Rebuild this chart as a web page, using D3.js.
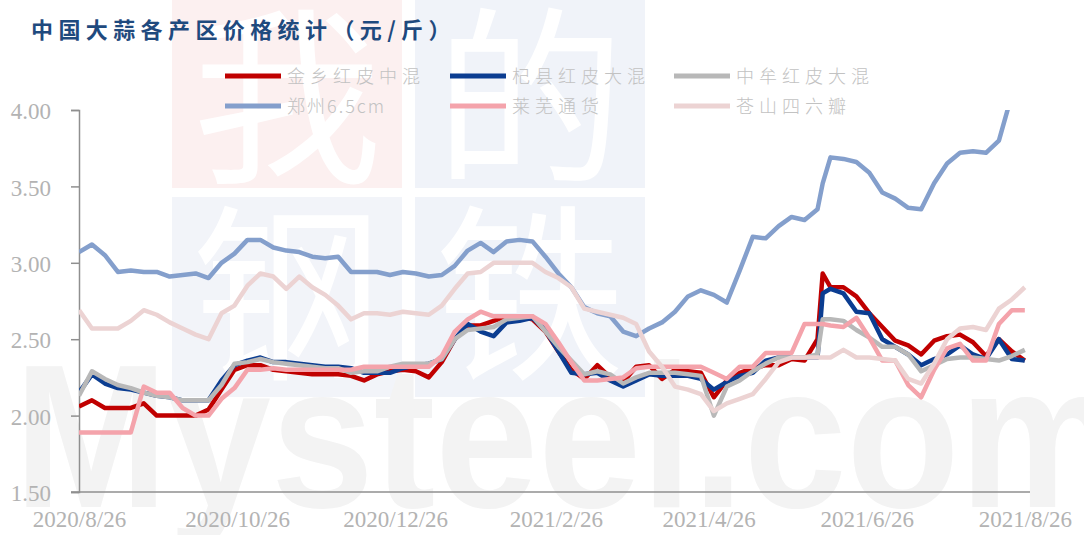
<!DOCTYPE html>
<html>
<head>
<meta charset="utf-8">
<script src="https://cdn.jsdelivr.net/npm/d3@7"></script>
<style>
  html, body { margin: 0; padding: 0; background: #fff; }
  #chart { width: 1084px; height: 535px; }
</style>
</head>
<body>
<div id="chart"></div>
<script>
// dates (every ~5 days, plus 2021-06-09 for the spike)
let dates = [
  "2020-08-26","2020-08-31","2020-09-05","2020-09-10","2020-09-15","2020-09-20","2020-09-25","2020-09-30",
  "2020-10-05","2020-10-10","2020-10-15","2020-10-20","2020-10-25","2020-10-30","2020-11-04","2020-11-09",
  "2020-11-14","2020-11-19","2020-11-24","2020-11-29","2020-12-04","2020-12-09","2020-12-14","2020-12-19",
  "2020-12-24","2020-12-29","2021-01-03","2021-01-08","2021-01-13","2021-01-18","2021-01-23","2021-01-28",
  "2021-02-02","2021-02-07","2021-02-12","2021-02-17","2021-02-22","2021-02-27","2021-03-04","2021-03-09",
  "2021-03-14","2021-03-19","2021-03-24","2021-03-29","2021-04-03","2021-04-08","2021-04-13","2021-04-18",
  "2021-04-23","2021-04-28","2021-05-03","2021-05-08","2021-05-13","2021-05-18","2021-05-23","2021-05-28",
  "2021-06-02","2021-06-07","2021-06-09","2021-06-12","2021-06-17","2021-06-22","2021-06-27","2021-07-02",
  "2021-07-07","2021-07-12","2021-07-17","2021-07-22","2021-07-27","2021-08-01","2021-08-06","2021-08-11",
  "2021-08-16","2021-08-21","2021-08-26"
];

let jinxiang = [
  2.06,2.10,2.05,2.05,2.05,2.08,2.00,2.00,2.00,2.00,2.04,2.17,2.30,2.33,2.33,2.30,
  2.29,2.28,2.27,2.27,2.27,2.26,2.23,2.27,2.29,2.30,2.29,2.25,2.35,2.50,2.59,2.59,
  2.62,2.65,2.65,2.63,2.55,2.42,2.30,2.24,2.33,2.25,2.22,2.32,2.33,2.24,2.30,2.29,
  2.28,2.12,2.23,2.28,2.31,2.33,2.33,2.37,2.36,2.50,2.93,2.84,2.84,2.78,2.67,2.58,
  2.49,2.46,2.40,2.49,2.52,2.53,2.48,2.39,2.50,2.42,2.36
];
let qixian = [
  2.15,2.27,2.21,2.18,2.17,2.15,2.13,2.12,2.10,2.10,2.10,2.23,2.33,2.36,2.38,2.35,
  2.35,2.34,2.33,2.32,2.32,2.31,2.28,2.28,2.28,2.31,2.33,2.34,2.37,2.50,2.60,2.55,
  2.52,2.61,2.62,2.64,2.56,2.42,2.28,2.27,2.28,2.23,2.19,2.23,2.27,2.26,2.26,2.26,
  2.24,2.17,2.22,2.26,2.28,2.36,2.38,2.38,2.38,2.38,2.80,2.83,2.80,2.68,2.67,2.50,
  2.45,2.40,2.33,2.37,2.40,2.46,2.40,2.37,2.50,2.37,2.36
];
let zhongmou = [
  2.13,2.29,2.24,2.20,2.18,2.15,2.13,2.12,2.10,2.10,2.10,2.20,2.34,2.35,2.37,2.35,
  2.34,2.33,2.32,2.31,2.31,2.28,2.29,2.29,2.32,2.34,2.34,2.34,2.37,2.50,2.56,2.57,
  2.58,2.63,2.64,2.65,2.55,2.45,2.36,2.27,2.29,2.27,2.21,2.25,2.28,2.28,2.28,2.27,
  2.26,2.00,2.19,2.23,2.29,2.34,2.38,2.38,2.38,2.40,2.63,2.63,2.62,2.56,2.51,2.45,
  2.45,2.40,2.29,2.33,2.37,2.38,2.38,2.37,2.36,2.39,2.43
];
let zhengzhou = [
  3.07,3.12,3.05,2.94,2.95,2.94,2.94,2.91,2.92,2.93,2.90,3.00,3.06,3.15,3.15,3.10,
  3.08,3.07,3.04,3.03,3.04,2.94,2.94,2.94,2.92,2.94,2.93,2.91,2.92,2.98,3.08,3.13,
  3.07,3.14,3.15,3.14,3.04,2.93,2.84,2.71,2.67,2.65,2.55,2.52,2.57,2.61,2.68,2.78,
  2.82,2.79,2.74,2.95,3.17,3.16,3.24,3.30,3.28,3.35,3.52,3.69,3.68,3.66,3.59,3.46,
  3.42,3.36,3.35,3.52,3.65,3.72,3.73,3.72,3.80,4.10,4.25
];
let laiwu = [
  1.89,1.89,1.89,1.89,1.89,2.19,2.15,2.15,2.05,2.00,2.00,2.11,2.18,2.30,2.30,2.31,
  2.30,2.30,2.30,2.30,2.30,2.30,2.32,2.32,2.32,2.32,2.32,2.32,2.39,2.55,2.63,2.68,
  2.65,2.65,2.65,2.65,2.60,2.48,2.35,2.23,2.23,2.24,2.25,2.31,2.32,2.32,2.32,2.32,
  2.32,2.28,2.24,2.32,2.32,2.41,2.41,2.41,2.60,2.60,2.60,2.59,2.58,2.64,2.51,2.36,
  2.36,2.20,2.12,2.30,2.44,2.47,2.36,2.36,2.60,2.69,2.69
];
let cangshan = [
  2.69,2.57,2.57,2.57,2.62,2.69,2.66,2.61,2.57,2.53,2.50,2.67,2.72,2.85,2.93,2.91,
  2.83,2.91,2.84,2.79,2.72,2.63,2.67,2.67,2.66,2.68,2.67,2.66,2.72,2.83,2.93,2.94,
  3.00,3.00,3.00,3.00,2.94,2.90,2.84,2.70,2.68,2.66,2.64,2.60,2.42,2.32,2.19,2.17,
  2.14,2.03,2.08,2.11,2.14,2.24,2.35,2.38,2.38,2.38,2.38,2.38,2.43,2.38,2.38,2.37,
  2.36,2.24,2.21,2.34,2.50,2.57,2.58,2.56,2.70,2.76,2.84
];

let seriesNames = ["金乡红皮中混", "杞县红皮大混", "中牟红皮大混", "郑州6.5cm", "莱芜通货", "苍山四六瓣"];
let seriesValues = [jinxiang, qixian, zhongmou, zhengzhou, laiwu, cangshan];
let seriesColors = ["#C00000", "#0B3D91", "#B8B8B8", "#849FCC", "#F4A3AB", "#ECD3D3"];

let yTicks = [1.5, 2.0, 2.5, 3.0, 3.5, 4.0];
let xTickDates = ["2020-08-26", "2020-10-26", "2020-12-26", "2021-02-26", "2021-04-26", "2021-06-26", "2021-08-26"];

let title = "中国大蒜各产区价格统计（元/斤）";

let width = 1084, height = 535;
let margin = { left: 79, right: 54, top: 110, bottom: 43 };

let parse = d3.timeParse("%Y-%m-%d");

let svg = d3.select("#chart").append("svg")
  .attr("width", width)
  .attr("height", height);

// watermark
let wm = svg.append("g");
let blocks = [
  { x: 172, y: 0, c: "#FCF0F0", t: "我" },
  { x: 415, y: 0, c: "#F0F3F9", t: "的" },
  { x: 172, y: 197, c: "#F2F4F9", t: "钢" },
  { x: 415, y: 197, c: "#F0F3F9", t: "铁" }
];
wm.selectAll("rect").data(blocks).enter().append("rect")
  .attr("x", d => d.x).attr("y", d => d.y)
  .attr("width", 230).attr("height", d => d.y === 0 ? 188 : 200)
  .attr("fill", d => d.c);
wm.selectAll("text.big").data(blocks).enter().append("text")
  .attr("class", "big")
  .attr("x", d => d.x + 115).attr("y", d => d.y + 168)
  .attr("text-anchor", "middle")
  .attr("font-family", "Noto Sans CJK SC")
  .attr("font-weight", 400)
  .attr("font-size", 190)
  .attr("fill", "#fff")
  .text(d => d.t);
wm.append("text")
  .attr("x", 14).attr("y", 507)
  .attr("font-family", "Liberation Sans")
  .attr("font-weight", 700)
  .attr("font-size", 205)
  .attr("textLength", 1110)
  .attr("lengthAdjust", "spacingAndGlyphs")
  .attr("fill", "#F3F3F3")
  .text("Mysteel.com");

let x = d3.scaleTime()
  .domain([parse("2020-08-26"), parse("2021-08-28")])
  .range([margin.left, width - margin.right]);

let y = d3.scaleLinear()
  .domain([1.5, 4])
  .range([height - margin.bottom, margin.top]);

// title
svg.append("text")
  .attr("x", 31).attr("y", 38)
  .attr("font-family", "Noto Sans CJK SC")
  .attr("font-weight", 700)
  .attr("font-size", 22)
  .attr("letter-spacing", 5.4)
  .attr("fill", "#1F4A7E")
  .text(title);

// y axis
let yAxis = svg.append("g")
  .attr("transform", `translate(${margin.left},0)`)
  .call(d3.axisLeft(y).tickValues(yTicks).tickFormat(d3.format(".2f")).tickSize(8).tickPadding(20));
yAxis.select(".domain").attr("stroke", "#8f8f8f").attr("stroke-width", 1.5);
yAxis.selectAll(".tick line").attr("stroke", "#8f8f8f").attr("stroke-width", 1.5);
yAxis.selectAll(".tick text")
  .attr("font-family", "Liberation Serif")
  .attr("font-size", 23)
  .attr("fill", "#b3b3b3")
  .attr("dy", "0.38em");

// x axis
let fmt = d3.timeFormat("%Y/%-m/%-d");
let xAxis = svg.append("g")
  .attr("transform", `translate(0,${height - margin.bottom})`)
  .call(d3.axisBottom(x).tickValues(xTickDates.map(parse)).tickFormat(fmt).tickSize(0).tickPadding(19));
xAxis.select(".domain").remove();
xAxis.insert("line", ":first-child")
  .attr("x1", margin.left - 8).attr("x2", width - margin.right)
  .attr("stroke", "#8f8f8f").attr("stroke-width", 1.5);
xAxis.selectAll(".tick text")
  .attr("font-family", "Liberation Serif")
  .attr("font-size", 23)
  .attr("fill", "#b3b3b3");

// lines
svg.append("clipPath").attr("id", "plot")
  .append("rect")
  .attr("x", margin.left).attr("y", margin.top)
  .attr("width", width - margin.right - margin.left)
  .attr("height", height - margin.bottom - margin.top);

let line = d3.line()
  .defined(d => d[1] != null)
  .x(d => x(d[0]))
  .y(d => y(d[1]));

let parsedDates = dates.map(parse);

svg.append("g").attr("clip-path", "url(#plot)")
  .selectAll("path")
  .data(seriesValues)
  .enter()
  .append("path")
  .attr("fill", "none")
  .attr("stroke", (d, i) => seriesColors[i])
  .attr("stroke-width", 4.5)
  .attr("stroke-linejoin", "round")
  .attr("d", d => line(d.map((v, i) => [parsedDates[i], v])));

// legend
let legendX = [225, 450, 674];
let legendY = [76, 106];
let legend = svg.append("g")
  .selectAll("g")
  .data(seriesNames)
  .enter()
  .append("g")
  .attr("transform", (d, i) => `translate(${legendX[i % 3]},${legendY[Math.floor(i / 3)]})`);

legend.append("line")
  .attr("x1", 0).attr("x2", 56)
  .attr("stroke", (d, i) => seriesColors[i])
  .attr("stroke-width", 5);

legend.append("text")
  .attr("x", 62).attr("y", 7)
  .attr("font-family", "Noto Sans CJK SC")
  .attr("font-weight", 300)
  .attr("font-size", 18)
  .attr("letter-spacing", (d, i) => i === 3 ? 2 : 5)
  .attr("fill", "#c2c2c2")
  .text(d => d);
</script>
</body>
</html>
